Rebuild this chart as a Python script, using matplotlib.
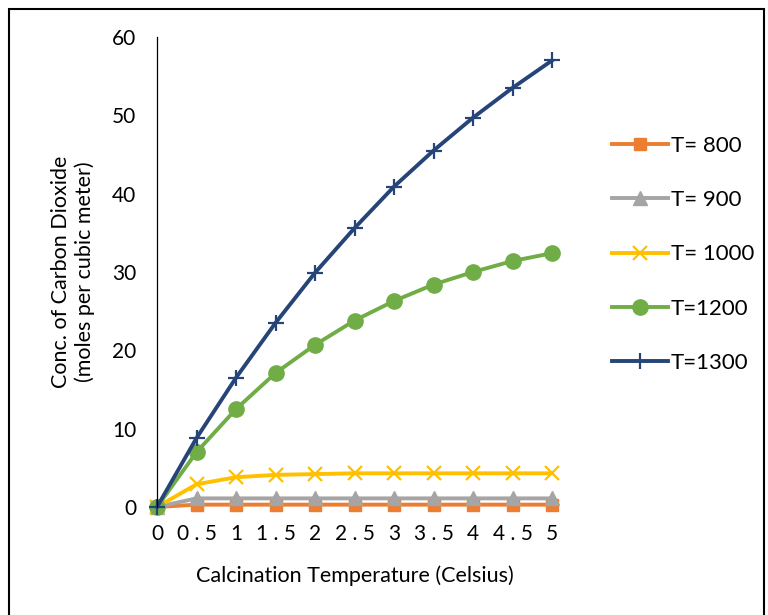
import matplotlib.pyplot as plt
from matplotlib.patches import Rectangle

plt.rcParams['font.family'] = ['Lato', 'DejaVu Sans']

time_labels = ['0', '0 . 5', '1', '1 . 5', '2', '2 . 5', '3', '3 . 5', '4', '4 . 5', '5']
time_vals = [0, 0.5, 1, 1.5, 2, 2.5, 3, 3.5, 4, 4.5, 5]

t800 = [0, 0.3, 0.3, 0.3, 0.3, 0.3, 0.3, 0.3, 0.3, 0.3, 0.3]
t900 = [0, 1.1, 1.1, 1.1, 1.1, 1.1, 1.1, 1.1, 1.1, 1.1, 1.1]
t1000 = [0, 2.9, 3.8, 4.1, 4.2, 4.3, 4.3, 4.3, 4.3, 4.3, 4.3]
t1200 = [0, 7.0, 12.5, 17.1, 20.7, 23.8, 26.3, 28.4, 30.0, 31.4, 32.4]
t1300 = [0, 8.8, 16.5, 23.5, 29.9, 35.6, 40.9, 45.5, 49.7, 53.5, 57.0]

series = [
    ('T= 800', t800, '#ED7D31', 's', 9),
    ('T= 900', t900, '#A5A5A5', '^', 10),
    ('T= 1000', t1000, '#FFC000', 'x', 10),
    ('T=1200', t1200, '#70AD47', 'o', 11),
    ('T=1300', t1300, '#264478', '+', 12),
]

fig = plt.figure(figsize=(7.68, 6.15), dpi=100)
ax = fig.add_axes([157 / 768, 108 / 615, 395 / 768, 470 / 615])

for label, vals, color, marker, ms in series:
    ax.plot(time_vals, vals, color=color, lw=2.8, marker=marker, markersize=ms,
            markeredgewidth=1.6 if marker in 'x+' else 1, label=label, clip_on=False)

ax.set_xlim(0, 5)
ax.set_ylim(0, 60)
ax.set_xticks(time_vals)
ax.set_xticklabels(time_labels)
ax.set_yticks(range(0, 61, 10))
ax.tick_params(axis='both', length=0, labelsize=15)
ax.tick_params(axis='y', pad=15)
ax.tick_params(axis='x', pad=12)
for side in ['top', 'right', 'bottom']:
    ax.spines[side].set_visible(False)
ax.spines['left'].set_linewidth(0.9)

ax.set_xlabel('Calcination Temperature (Celsius)', fontsize=15.5, labelpad=16)
fig.text(73 / 768, 1 - 272 / 615, 'Conc. of Carbon Dioxide\n(moles per cubic meter)',
         rotation=90, ha='center', va='center', fontsize=15.5, linespacing=1.15)

ax.legend(loc='upper left', bbox_to_anchor=(592 / 768, 1 - 116 / 615),
          bbox_transform=fig.transFigure, frameon=False, fontsize=16,
          handlelength=2.5, labelspacing=1.54, handletextpad=0.15)

fig.patches.append(Rectangle((9 / 768, -0.01), 755 / 768, 1 - 9 / 615 + 0.01,
                             transform=fig.transFigure, fill=False, lw=1.5,
                             edgecolor='black'))

fig.savefig('out.png', dpi=100)
